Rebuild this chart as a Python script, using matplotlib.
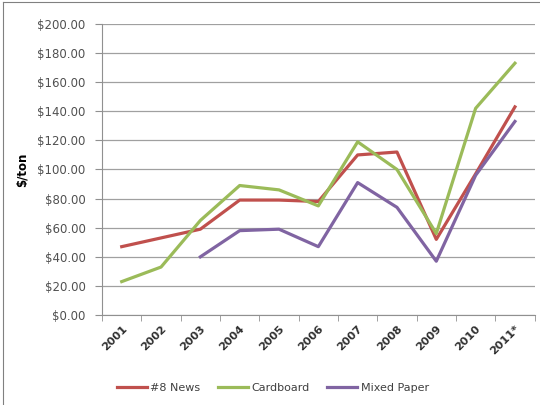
import matplotlib
matplotlib.use('Agg')
import matplotlib.pyplot as plt
from matplotlib.lines import Line2D
import numpy as np

years = ['2001', '2002', '2003', '2004', '2005', '2006', '2007', '2008', '2009', '2010', '2011*']
news8 = [47, 53, 59, 79, 79, 78, 110, 112, 52, 97, 143]
cardboard = [23, 33, 65, 89, 86, 75, 119, 100, 56, 142, 173]
mixed_paper = [None, None, 40, 58, 59, 47, 91, 74, 37, 96, 133]


def main():
	plt.rcParams['font.family'] = ['DejaVu Sans']
	fig = plt.figure(figsize=(5.4, 4.05), dpi=100)
	ax = fig.add_axes([0.189, 0.222, 0.801, 0.719])

	x = np.arange(len(years))
	mp = np.array([np.nan if v is None else v for v in mixed_paper], dtype=float)
	ax.plot(x, news8, color='#C0504D', lw=2.3, label='#8 News')
	ax.plot(x, cardboard, color='#9BBB59', lw=2.3, label='Cardboard')
	ax.plot(x, mp, color='#8064A2', lw=2.3, label='Mixed Paper')

	ax.set_xlim(-0.5, len(years) - 0.5)
	ax.set_ylim(0, 200)
	ax.set_yticks(np.arange(0, 201, 20))
	ax.set_yticklabels(['${:.2f}'.format(v) for v in np.arange(0, 201, 20)], fontsize=8.5, color='#505050')
	ax.yaxis.grid(True, color='#a0a0a0', lw=0.9)
	ax.set_axisbelow(True)

	# category ticks sit between the years, labels at the centres
	ax.set_xticks(x)
	ax.set_xticklabels(years, rotation=45, fontsize=8, fontweight='bold', color='#303030', ha='right', rotation_mode='anchor')
	ax.tick_params(axis='x', length=0, pad=6)
	ax.set_xticks(np.arange(-0.5, len(years), 1), minor=True)
	ax.tick_params(axis='x', which='minor', length=4, color='#909090')
	ax.tick_params(axis='y', length=5, color='#909090', pad=7)

	for s in ['top', 'right']:
		ax.spines[s].set_visible(False)
	for s in ['left', 'bottom']:
		ax.spines[s].set_color('#909090')

	ax.set_ylabel('$/ton', fontsize=8.5, fontweight='bold', labelpad=6)

	fig.legend(loc='center', bbox_to_anchor=(0.505, 0.042), ncol=3, frameon=False, fontsize=8, handlelength=2.7, handletextpad=0.3, columnspacing=1.6, labelcolor='#404040')

	# only the left and top edges of the chart border show in the picture
	fig.lines.append(Line2D([0.005, 0.005], [0, 0.995], transform=fig.transFigure, color='#808080', lw=0.8))
	fig.lines.append(Line2D([0.005, 1], [0.995, 0.995], transform=fig.transFigure, color='#808080', lw=0.8))

	fig.savefig('out.png', dpi=100)


if __name__ == "__main__":
	main()
